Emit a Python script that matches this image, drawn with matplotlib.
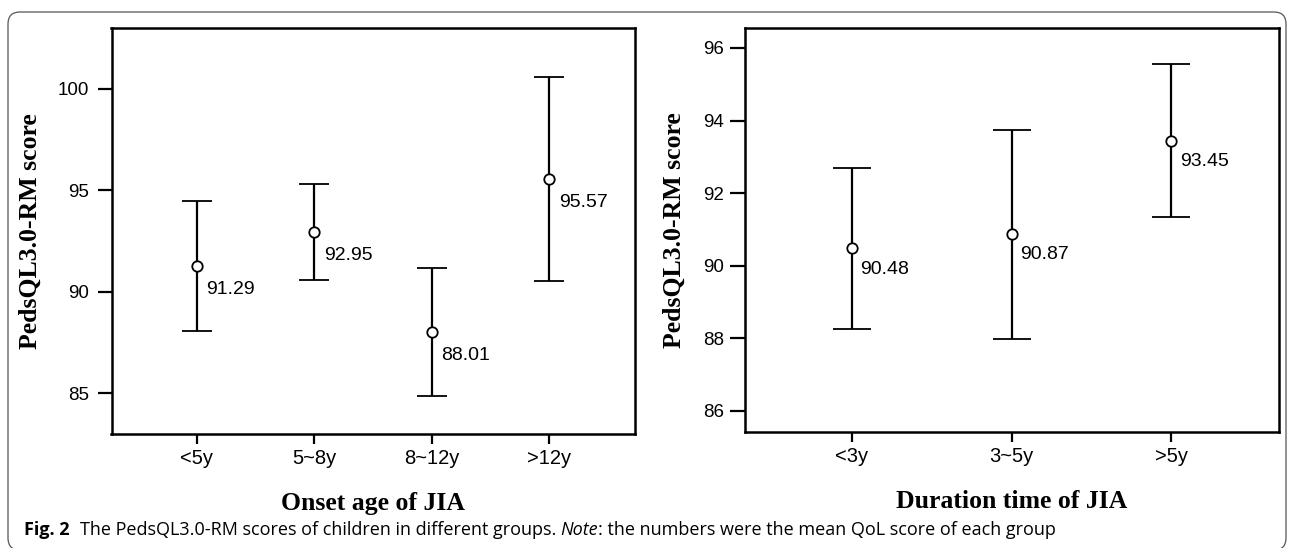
import matplotlib
matplotlib.use("Agg")
import matplotlib.pyplot as plt
from matplotlib.patches import FancyBboxPatch
from matplotlib.transforms import IdentityTransform

# ---- data ----
onset_groups = ["<5y", "5~8y", "8~12y", ">12y"]
onset_means = [91.29, 92.95, 88.01, 95.57]
onset_lower = [88.09, 90.59, 84.85, 90.56]
onset_upper = [94.49, 95.31, 91.18, 100.58]
onset_labels = ["91.29", "92.95", "88.01", "95.57"]
onset_yticks = [85, 90, 95, 100]

dur_groups = ["<3y", "3~5y", ">5y"]
dur_means = [90.48, 90.87, 93.45]
dur_lower = [88.26, 87.99, 91.35]
dur_upper = [92.69, 93.75, 95.55]
dur_labels = ["90.48", "90.87", "93.45"]
dur_yticks = [86, 88, 90, 92, 94, 96]

caption_bold = "Fig. 2"
caption_1 = "The PedsQL3.0-RM scores of children in different groups. "
caption_it = "Note"
caption_2 = ": the numbers were the mean QoL score of each group"

W, H = 1290, 548
fig = plt.figure(figsize=(W / 100, H / 100), dpi=100)

TICKFONT = ["Liberation Sans", "DejaVu Sans"]
LABELFONT = ["Liberation Serif", "DejaVu Serif"]


def panel(rect, groups, means, lower, upper, labels, yticks, ylim, xpad,
          xlabel, capsize, txt_off, ylab_x, ytick_len, ytick_pad):
    ax = fig.add_axes(rect)
    x = list(range(len(groups)))
    yerr = [[m - l for m, l in zip(means, lower)],
            [u - m for m, u in zip(means, upper)]]
    ax.errorbar(x, means, yerr=yerr, fmt="o", color="black", ecolor="black",
                elinewidth=1.6, capsize=capsize, capthick=1.6, markersize=7.5,
                markerfacecolor="white", markeredgecolor="black",
                markeredgewidth=1.3, zorder=3)
    for xi, m, lab in zip(x, means, labels):
        ax.annotate(lab, (xi, m), xytext=txt_off, textcoords="offset points",
                    ha="left", va="center", fontsize=14, family=TICKFONT)
    ax.set_xlim(-xpad, len(groups) - 1 + xpad)
    ax.set_ylim(*ylim)
    ax.set_xticks(x)
    ax.set_xticklabels(groups, family=TICKFONT, fontsize=14.5)
    ax.set_yticks(yticks)
    ax.set_yticklabels([str(t) for t in yticks], family=TICKFONT, fontsize=13.5)
    ax.tick_params(axis="x", direction="out", length=7.5, width=1.6, pad=3)
    ax.tick_params(axis="y", direction="out", length=ytick_len, width=1.6,
                   pad=ytick_pad)
    for s in ax.spines.values():
        s.set_linewidth(1.8)
    ax.set_xlabel(xlabel, family=LABELFONT, fontweight="bold", fontsize=18.5)
    ax.set_ylabel("PedsQL3.0-RM score", family=LABELFONT, fontweight="bold",
                  fontsize=18.5)
    ax.xaxis.set_label_coords(0.5, -0.143)
    ax.yaxis.set_label_coords(ylab_x, 0.5)
    return ax


panel([111.5 / W, (H - 434) / H, 523.2 / W, 406 / H], onset_groups,
      onset_means, onset_lower, onset_upper, onset_labels, onset_yticks,
      (83.0, 103.0), 0.725, "Onset age of JIA", 10.8, (7, -17), -0.133, 10, 6)

panel([744.9 / W, (H - 432.3) / H, 533.6 / W, 404.3 / H], dur_groups,
      dur_means, dur_lower, dur_upper, dur_labels, dur_yticks,
      (85.41, 96.55), 0.67, "Duration time of JIA", 13.9, (6, -15), -0.110,
      11, 4)

# rounded frame
frame = FancyBboxPatch((8, -2), 1278, H - 12 + 2,
                       boxstyle="round,pad=0,rounding_size=12",
                       transform=IdentityTransform(), facecolor="none",
                       edgecolor="#555555", linewidth=0.9)
fig.add_artist(frame)

# caption
CAPFONT = ["Open Sans", "DejaVu Sans"]
CAPSIZE = 13
base_y = 1 - 535 / H
fig.canvas.draw()
r = fig.canvas.get_renderer()
t0 = fig.text(24 / W, base_y, caption_bold, family=CAPFONT, fontweight="bold",
              fontsize=CAPSIZE, va="baseline", ha="left")
bb = t0.get_window_extent(r)
t1 = fig.text((bb.x1 + 10) / W, base_y, caption_1, family=CAPFONT,
              fontsize=CAPSIZE, va="baseline", ha="left")
bb = t1.get_window_extent(r)
t2 = fig.text(bb.x1 / W, base_y, caption_it, family=CAPFONT, style="italic",
              fontsize=CAPSIZE, va="baseline", ha="left")
bb = t2.get_window_extent(r)
t3 = fig.text(bb.x1 / W, base_y, caption_2, family=CAPFONT,
              fontsize=CAPSIZE, va="baseline", ha="left")

fig.savefig("out.png", dpi=100)
